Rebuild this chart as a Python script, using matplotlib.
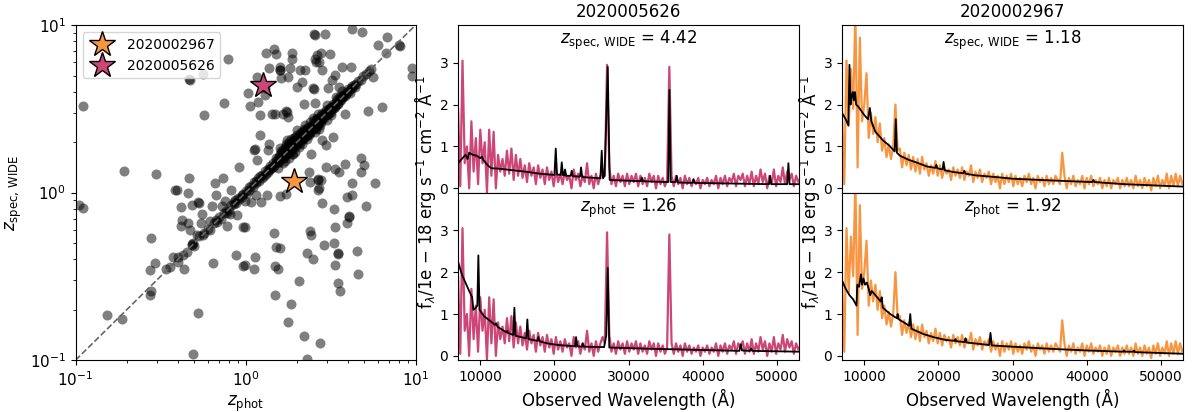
import matplotlib
matplotlib.use("Agg")
import matplotlib.pyplot as plt
import numpy as np

# colours of the two highlighted objects
c_pink = '#CC4778'
c_orange = '#F89540'

# ---- photo-z vs spec-z sample ----
zphot_core = [
    0.34, 0.36, 0.40, 0.45, 0.49, 0.50, 0.53, 0.56, 0.60, 0.62,
    0.65, 0.67, 0.68, 0.70, 0.72, 0.75, 0.77, 0.80, 0.82, 0.85,
    0.87, 0.88, 0.90, 0.92, 0.95, 0.97, 1.00, 1.02, 1.05, 1.08,
    1.10, 1.12, 1.15, 1.18, 1.20, 1.22, 1.25, 1.28, 1.30, 1.32,
    1.35, 1.38, 1.40, 1.42, 1.45, 1.47, 1.50, 1.52, 1.55, 1.55,
    1.58, 1.60, 1.60, 1.62, 1.63, 1.65, 1.65, 1.67, 1.68, 1.70,
    1.70, 1.72, 1.73, 1.75, 1.76, 1.78, 1.78, 1.80, 1.80, 1.82,
    1.83, 1.85, 1.85, 1.87, 1.88, 1.90, 1.90, 1.92, 1.94, 1.95,
    1.96, 1.98, 2.00, 2.00, 2.02, 2.04, 2.05, 2.08, 2.10, 2.10,
    2.12, 2.15, 2.15, 2.18, 2.20, 2.22, 2.25, 2.25, 2.28, 2.30,
    2.32, 2.35, 2.38, 2.40, 2.42, 2.45, 2.48, 2.50, 2.52, 2.55,
    2.58, 2.60, 2.62, 2.65, 2.68, 2.70, 2.72, 2.75, 2.78, 2.80,
    2.82, 2.85, 2.88, 2.90, 2.95, 2.98, 3.00, 3.05, 3.08, 3.10,
    3.15, 3.20, 3.22, 3.28, 3.30, 3.35, 3.40, 3.45, 3.50, 3.55,
    3.60, 3.68, 3.75, 3.80, 3.90, 3.95, 4.05, 4.15, 4.25, 4.35,
    4.45, 4.60, 4.75, 4.90, 5.10, 5.30, 5.50, 5.60, 1.88, 2.05,
    2.30, 2.55, 2.70, 3.00, 3.20, 1.60, 1.75, 2.00, 2.25, 2.50,
    2.40, 2.65, 3.00, 3.40, 3.70, 1.55, 1.65, 1.70, 1.80, 1.95,
    1.50, 1.58, 1.62, 1.68, 1.72, 1.78, 1.82, 1.88, 1.92, 1.98,
    2.02, 2.08, 2.12, 2.18, 2.22, 2.28, 2.32, 2.38, 2.42, 2.48,
    2.52, 2.58, 2.62, 2.68, 2.72, 2.78, 2.82, 2.88, 2.92, 2.98,
    3.05, 3.12, 3.18, 3.25, 3.32, 3.38, 3.45, 3.52, 3.58, 3.65,
    3.72, 3.85, 4.00, 4.10, 4.20, 4.40, 1.40, 1.45, 1.35, 1.25,
    1.15, 1.05, 0.95, 0.85, 0.78, 2.35, 2.60, 2.15, 1.90, 2.75,
]
zspec_core = [
    0.35, 0.36, 0.41, 0.44, 0.50, 0.48, 0.55, 0.56, 0.61, 0.60,
    0.66, 0.69, 0.67, 0.72, 0.70, 0.76, 0.78, 0.79, 0.84, 0.85,
    0.90, 0.87, 0.93, 0.91, 0.97, 0.98, 1.02, 1.00, 1.08, 1.10,
    1.08, 1.15, 1.14, 1.22, 1.18, 1.26, 1.27, 1.25, 1.34, 1.30,
    1.38, 1.36, 1.45, 1.40, 1.50, 1.44, 1.55, 1.50, 1.60, 1.52,
    1.64, 1.58, 1.70, 1.62, 1.75, 1.66, 1.80, 1.60, 1.72, 1.85,
    1.68, 1.78, 1.95, 1.72, 1.82, 1.90, 1.75, 2.00, 1.82, 1.78,
    1.88, 1.95, 2.10, 1.84, 1.92, 2.00, 1.86, 2.05, 1.92, 2.15,
    1.98, 2.05, 1.95, 2.10, 2.20, 2.00, 2.08, 2.15, 2.05, 2.25,
    2.12, 2.20, 2.05, 2.30, 2.18, 2.25, 2.35, 2.15, 2.28, 2.40,
    2.25, 2.35, 2.45, 2.30, 2.50, 2.42, 2.55, 2.45, 2.60, 2.50,
    2.62, 2.70, 2.55, 2.68, 2.75, 2.62, 2.80, 2.72, 2.85, 2.75,
    2.90, 2.82, 2.95, 2.85, 3.00, 2.92, 3.05, 3.10, 3.00, 3.15,
    3.12, 3.25, 3.15, 3.30, 3.22, 3.38, 3.35, 3.50, 3.45, 3.60,
    3.55, 3.70, 3.72, 3.85, 3.88, 4.00, 4.02, 4.20, 4.22, 4.40,
    4.45, 4.62, 4.70, 4.95, 5.10, 5.35, 5.45, 4.90, 1.70, 1.88,
    2.10, 2.30, 2.40, 2.70, 2.90, 1.85, 2.05, 2.35, 2.55, 2.80,
    2.65, 2.95, 3.35, 3.70, 4.05, 1.40, 1.50, 1.55, 1.62, 1.75,
    1.62, 1.52, 1.78, 1.62, 1.90, 1.70, 1.98, 1.80, 2.12, 1.90,
    2.05, 1.98, 2.30, 2.10, 2.40, 2.18, 2.45, 2.28, 2.40, 2.40,
    2.70, 2.48, 2.80, 2.58, 2.70, 2.65, 3.00, 2.78, 2.95, 3.10,
    2.95, 3.20, 3.05, 3.40, 3.30, 3.25, 3.60, 3.40, 3.75, 3.55,
    3.85, 3.75, 4.15, 3.95, 4.35, 4.25, 1.38, 1.42, 1.32, 1.22,
    1.18, 1.03, 0.94, 0.88, 0.76, 2.20, 2.40, 1.95, 1.70, 2.55,
]
zphot_out = [
    2.52, 2.56, 2.92, 4.21, 4.85, 6.75, 8.09, 8.00, 6.03, 6.69,
    1.31, 1.46, 1.52, 1.87, 1.88, 2.56, 2.64, 2.77, 3.13, 0.783,
    2.58, 2.70, 1.59, 1.59, 1.60, 1.82, 2.09, 2.24, 1.37, 2.80,
    3.70, 4.17, 9.47, 9.55, 0.467, 0.470, 0.563, 1.16, 1.04, 1.19,
    1.06, 1.30, 1.30, 1.61, 1.78, 2.02, 2.15, 2.50, 2.52, 3.04,
    3.38, 3.23, 3.54, 2.21, 2.56, 1.74, 1.75, 1.44, 1.48, 1.67,
    1.78, 1.21, 5.27, 6.31, 3.84, 0.568, 0.746, 0.110, 1.21, 1.12,
    1.13, 1.37, 1.36, 1.16, 2.44, 2.80, 2.99, 3.28, 3.84, 4.77,
    4.99, 3.35, 3.55, 4.77, 4.21, 5.77, 2.65, 2.67, 2.77, 2.36,
    2.96, 2.39, 2.70, 2.65, 2.83, 3.32, 3.93, 4.24, 4.05, 4.07,
    3.96, 3.35, 5.10, 1.59, 1.74, 1.24, 1.07, 1.33, 1.15, 0.991,
    1.46, 1.52, 1.59, 1.13, 1.12, 0.991, 1.49, 1.56, 2.06, 1.48,
    1.85, 1.78, 2.21, 2.75, 2.30, 2.39, 2.41, 2.88, 2.30, 2.50,
    3.32, 3.48, 3.50, 3.38, 3.48, 3.59, 4.52, 4.60, 0.873, 0.969,
    0.646, 0.960, 0.773, 0.471, 0.417, 0.460, 0.546, 0.551, 0.485, 0.417,
    0.527, 0.530, 0.460, 0.384, 0.637, 0.722, 0.809, 0.756, 0.660, 0.732,
    0.667, 0.820, 0.918, 0.467, 0.393, 0.297, 0.192, 0.105, 0.110, 0.277,
    0.293, 0.274, 0.277, 0.274, 0.153, 0.187, 0.492, 0.527, 0.398, 0.430,
    0.436, 0.481, 0.485, 0.520, 0.571, 0.376, 0.991, 0.885, 0.620, 0.424,
]
zspec_out = [
    8.80, 8.75, 8.90, 9.47, 9.12, 8.51, 7.53, 7.60, 7.60, 6.78,
    6.78, 7.19, 6.68, 6.78, 6.32, 6.32, 6.62, 6.78, 6.68, 6.24,
    6.04, 5.99, 5.64, 5.38, 5.40, 5.51, 5.43, 5.43, 5.51, 5.38,
    5.64, 5.59, 5.51, 4.96, 4.76, 4.72, 5.09, 4.92, 3.95, 3.49,
    3.30, 4.23, 3.82, 4.85, 4.92, 4.29, 4.59, 4.19, 4.15, 4.19,
    5.02, 4.70, 4.29, 3.36, 3.41, 3.08, 3.05, 2.93, 2.93, 2.93,
    2.84, 2.90, 3.08, 3.25, 2.93, 2.90, 3.41, 3.30, 2.22, 1.80,
    1.81, 1.96, 1.80, 1.56, 1.71, 2.05, 1.92, 2.15, 1.49, 1.60,
    1.46, 1.38, 1.33, 1.33, 1.14, 1.14, 1.19, 1.20, 1.19, 1.33,
    1.43, 1.15, 1.06, 1.03, 0.869, 0.796, 0.944, 0.966, 0.728, 0.720,
    0.655, 0.625, 0.830, 0.953, 0.980, 0.881, 0.881, 0.966, 0.966, 0.625,
    0.570, 0.475, 0.465, 0.410, 0.352, 0.369, 0.364, 0.352, 0.298, 0.244,
    0.215, 0.169, 0.139, 0.127, 0.102, 0.589, 0.562, 0.486, 0.438, 0.401,
    0.497, 0.434, 0.430, 0.369, 0.290, 0.260, 0.450, 0.326, 0.424, 0.366,
    0.378, 0.619, 0.634, 0.597, 0.634, 0.655, 0.655, 0.745, 0.841, 0.822,
    0.881, 0.870, 0.990, 1.04, 0.830, 0.830, 0.745, 0.893, 1.14, 1.22,
    0.966, 1.04, 1.43, 1.22, 1.03, 1.29, 1.35, 0.849, 0.811, 0.537,
    0.381, 0.344, 0.260, 0.244, 0.185, 0.177, 0.108, 0.192, 0.386, 0.424,
    0.348, 0.486, 0.490, 0.557, 0.570, 0.414, 0.893, 0.734, 0.676, 0.686,
]

# highlighted objects: id, zphot, zspec
id_a, zphot_a, zspec_a = '2020005626', 1.26, 4.42
id_b, zphot_b, zspec_b = '2020002967', 1.92, 1.18

# ---- observed spectra (1e-18 erg/s/cm2/A), 300 A sampling from 7000 A ----
wave_start, wave_step = 7000, 300
flux_a = [
    1.90, 0.05, 3.05, 0.60, 1.00, 0.00, 1.60, 0.40, 1.20, 0.10,
    1.40, 0.60, 1.10, -0.10, 1.40, 0.30, 1.35, 0.00, 0.80, 0.40,
    0.70, 0.30, 0.90, 0.35, 0.95, 0.20, 0.80, 0.30, 0.70, 0.25,
    0.55, 0.15, 0.60, 0.30, 0.50, 0.10, 0.55, 0.25, 0.45, 0.10,
    0.50, 0.20, 0.40, 0.05, 0.45, 0.15, 0.35, 0.10, 0.40, 0.20,
    0.30, 0.00, 0.45, 0.20, 0.35, 0.05, 0.30, 0.15, 0.60, 0.10,
    0.30, 0.00, 0.35, 0.10, 0.30, 0.45, 0.30, 2.95, 0.50, 0.10,
    0.30, 0.05, 0.35, 0.15, 0.30, 0.05, 0.35, 0.10, 0.30, 0.15,
    0.35, 0.05, 0.30, 0.10, 0.25, 0.05, 0.35, 0.15, 0.30, 0.00,
    0.30, 0.10, 0.25, 0.05, 0.20, 2.90, 0.30, 0.05, 0.30, 0.10,
    0.25, 0.00, 0.30, 0.10, 0.25, 0.05, 0.20, 0.10, 0.25, 0.00,
    0.20, 0.10, 0.25, 0.05, 0.20, 0.10, 0.30, 0.00, 0.25, 0.10,
    0.30, 0.05, 0.25, 0.15, 0.35, 0.05, 0.30, 0.20, 0.35, 0.05,
    0.30, 0.10, 0.40, 0.05, 0.30, 0.10, 0.45, 0.15, 0.35, 0.00,
    0.30, 0.10, 0.45, 0.05, 0.30, 0.15, 0.50, 0.10, 0.40, 0.20,
    0.35, 0.05, 0.30, 0.15, 0.25,
]
flux_b = [
    1.80, 0.10, 3.05, 1.50, 2.85, 1.90, 4.20, 0.50, 3.60, 1.60,
    2.00, 2.75, 1.20, 1.80, 1.30, 1.70, 1.10, 1.55, 0.90, 1.20,
    0.75, 1.05, 0.70, 1.00, 2.00, 0.90, 0.95, 0.50, 0.85, 0.55,
    0.80, 0.45, 0.75, 0.40, 0.70, 0.35, 0.75, 0.45, 0.60, 0.30,
    0.55, 0.35, 0.65, 0.30, 0.55, 0.25, 0.50, 0.35, 0.45, 0.20,
    0.50, 0.30, 0.45, 0.25, 0.50, 0.20, 0.40, 0.30, 0.55, 0.15,
    0.40, 0.25, 0.45, 0.15, 0.35, 0.25, 0.40, 0.10, 0.35, 0.15,
    0.30, 0.00, 0.35, 0.10, 0.30, 0.15, 0.35, 0.05, 0.30, 0.10,
    0.25, 0.05, 0.30, 0.15, 0.35, 0.10, 0.25, 0.00, 0.30, 0.15,
    0.25, 0.05, 0.30, 0.10, 0.25, 0.10, 0.30, 0.20, 0.10, 0.85,
    0.30, 0.00, 0.25, 0.10, 0.30, 0.05, 0.20, 0.10, 0.30, 0.00,
    0.25, 0.10, 0.30, 0.05, 0.20, 0.10, 0.25, 0.00, 0.20, 0.05,
    0.25, 0.00, 0.20, 0.10, 0.25, 0.00, 0.20, 0.05, 0.25, 0.05,
    0.20, 0.00, 0.30, 0.05, 0.20, 0.00, 0.25, 0.05, 0.20, -0.05,
    0.25, 0.05, 0.30, 0.00, 0.20, 0.05, 0.35, 0.00, 0.30, 0.05,
    0.35, 0.05, 0.30, 0.10, 0.20,
]

# ---- best-fit templates ----
# 2020005626 at z_spec
mw_a_spec = [7000, 7500, 8000, 8300, 8500, 9000, 9500, 10000, 10200, 10400,
             11000, 11500, 12500, 14000, 16000, 18000, 20000, 20180, 20350, 20850,
             20990, 21150, 21300, 21430, 21580, 22200, 22330, 22480, 23450, 23590,
             23750, 26200, 26380, 26550, 26750, 26920, 27190, 27450, 31650, 31780,
             31920, 35350, 35510, 35680, 36350, 36500, 36650, 38600, 38750, 38900,
             48950, 49090, 49250, 51400, 51560, 51720, 53200]
mf_a_spec = [0.60, 0.70, 0.80, 0.70, 0.85, 0.80, 0.78, 0.72, 0.76, 0.68,
             0.55, 0.48, 0.47, 0.44, 0.40, 0.35, 0.32, 0.95, 0.33, 0.32,
             0.62, 0.31, 0.31, 0.45, 0.30, 0.30, 0.42, 0.29, 0.28, 0.50,
             0.27, 0.24, 0.90, 0.24, 0.30, 1.20, 2.90, 0.20, 0.17, 0.26,
             0.17, 0.15, 2.35, 0.15, 0.15, 0.30, 0.14, 0.13, 0.22, 0.13,
             0.10, 0.30, 0.10, 0.10, 0.60, 0.10, 0.10]
# 2020005626 at z_phot
mw_a_phot = [7000, 7500, 8000, 8500, 8900, 9070, 9400, 9600, 9740, 9900,
             10500, 11000, 12000, 12130, 12300, 13000, 13550, 13650, 13750, 14450,
             14600, 14750, 16200, 16350, 16500, 17700, 17840, 18000, 19000, 20500,
             22770, 22920, 23070, 23680, 23820, 23970, 26700, 27000, 27190, 27400,
             33000, 38000, 44950, 45130, 45300, 46380, 46530, 46680, 53200]
mf_a_phot = [2.25, 1.95, 1.75, 1.55, 1.40, 1.10, 1.15, 1.20, 2.40, 1.10,
             0.95, 0.88, 0.74, 0.78, 0.70, 0.62, 0.56, 0.60, 0.55, 0.50,
             1.15, 0.48, 0.42, 0.87, 0.40, 0.36, 0.45, 0.35, 0.30, 0.26,
             0.23, 0.45, 0.23, 0.22, 0.30, 0.22, 0.21, 0.50, 2.10, 0.20,
             0.17, 0.15, 0.12, 0.28, 0.13, 0.12, 0.18, 0.12, 0.10]
# 2020002967 at z_spec
mw_b_spec = [7000, 7500, 7850, 8000, 8150, 8300, 8450, 8600, 8750, 8900,
             9200, 9600, 10000, 10500, 10750, 10950, 11500, 12500, 13500, 14100,
             14250, 14400, 14800, 16000, 17000, 18500, 19600, 19720, 19850, 20550,
             20700, 20850, 22000, 23350, 23500, 23650, 25000, 27700, 30000, 35000,
             40750, 40900, 41050, 45000, 53200]
mf_b_spec = [1.80, 1.65, 1.50, 2.95, 2.00, 2.20, 2.30, 2.10, 2.30, 2.00,
             1.95, 1.85, 1.75, 1.65, 1.92, 1.60, 1.35, 1.15, 1.00, 0.88,
             1.65, 0.85, 0.78, 0.68, 0.62, 0.52, 0.49, 0.56, 0.48, 0.45,
             0.63, 0.43, 0.39, 0.36, 0.42, 0.35, 0.31, 0.27, 0.23, 0.19,
             0.15, 0.20, 0.15, 0.10, 0.04]
# 2020002967 at z_phot
mw_b_phot = [7000, 7500, 8000, 8500, 8950, 9050, 9300, 9550, 9700, 9900,
             10100, 10350, 10600, 10800, 11000, 11500, 12200, 12350, 12500, 13500,
             14400, 14500, 14600, 16050, 16200, 16350, 18000, 19500, 21000, 22200,
             22300, 22400, 23550, 23650, 23800, 26850, 27020, 27200, 30000, 35000,
             40000, 44950, 45060, 45170, 46320, 46420, 46520, 53200]
mf_b_phot = [1.80, 1.60, 1.45, 1.35, 1.20, 1.70, 1.65, 1.95, 1.70, 1.85,
             1.70, 1.75, 1.60, 1.45, 1.55, 1.45, 1.30, 1.40, 1.15, 1.00,
             0.90, 1.00, 0.88, 0.72, 1.00, 0.65, 0.52, 0.44, 0.38, 0.36,
             0.40, 0.35, 0.33, 0.42, 0.32, 0.26, 0.55, 0.25, 0.22, 0.17,
             0.13, 0.10, 0.13, 0.10, 0.10, 0.13, 0.09, 0.05]

wave_a = wave_start + wave_step * np.arange(len(flux_a))
wave_b = wave_start + wave_step * np.arange(len(flux_b))

fig = plt.figure(figsize=(12, 4.12), dpi=100)

# left: zphot vs zspec
ax = fig.add_axes([0.063, 0.126, 0.2833, 0.813])
ax.scatter(zphot_core + zphot_out, zspec_core + zspec_out, s=52, c='k',
           alpha=0.5, lw=0)
ax.plot([0.1, 10], [0.1, 10], ls='--', color='0.4', lw=1.2)
ax.plot(zphot_b, zspec_b, marker='*', ls='none', ms=19, mfc=c_orange,
        mec='k', mew=1, label=id_b)
ax.plot(zphot_a, zspec_a, marker='*', ls='none', ms=19, mfc=c_pink,
        mec='k', mew=1, label=id_a)
ax.set_xscale('log')
ax.set_yscale('log')
ax.set_xlim(0.1, 10)
ax.set_ylim(0.1, 10)
ax.set_xlabel(r'$z_{\rm phot}$', fontsize=12)
ax.set_ylabel(r'$z_{\rm spec,\,WIDE}$', fontsize=12)
ax.tick_params(labelsize=11)
ax.legend(loc='upper left', fontsize=10)

ylab = r'f$_\lambda$/1e $-$ 18 erg s$^{-1}$ cm$^{-2}$ Å$^{-1}$'


def spec_column(x0, wave, flux, color, title, mw_s, mf_s, z_s, mw_p, mf_p, z_p):
    top = fig.add_axes([x0, 0.5327, 0.2842, 0.4066])
    bot = fig.add_axes([x0, 0.126, 0.2842, 0.4066], sharex=top)
    for a, mw, mf, txt in [(top, mw_s, mf_s, r'$z_{\rm spec,\,WIDE}$ = %.2f' % z_s),
                           (bot, mw_p, mf_p, r'$z_{\rm phot}$ = %.2f' % z_p)]:
        a.plot(wave, flux, color=color, lw=1.6)
        a.plot(mw, mf, color='k', lw=1.3)
        a.set_ylim(-0.1, 3.9)
        a.set_yticks([0, 1, 2, 3])
        a.text(0.5, 0.975, txt, transform=a.transAxes, ha='center',
               va='top', fontsize=12)
        a.tick_params(labelsize=10)
    top.set_xlim(7000, 53000)
    top.tick_params(labelbottom=False)
    top.set_title(title, fontsize=12)
    bot.set_xlabel('Observed Wavelength (Å)', fontsize=12)
    top.set_ylabel(ylab, fontsize=12)
    top.yaxis.set_label_coords(-0.058, 0.0)


spec_column(0.3817, wave_a, flux_a, c_pink, id_a,
            mw_a_spec, mf_a_spec, zspec_a, mw_a_phot, mf_a_phot, zphot_a)
spec_column(0.7017, wave_b, flux_b, c_orange, id_b,
            mw_b_spec, mf_b_spec, zspec_b, mw_b_phot, mf_b_phot, zphot_b)

fig.savefig('out.png', dpi=100)
